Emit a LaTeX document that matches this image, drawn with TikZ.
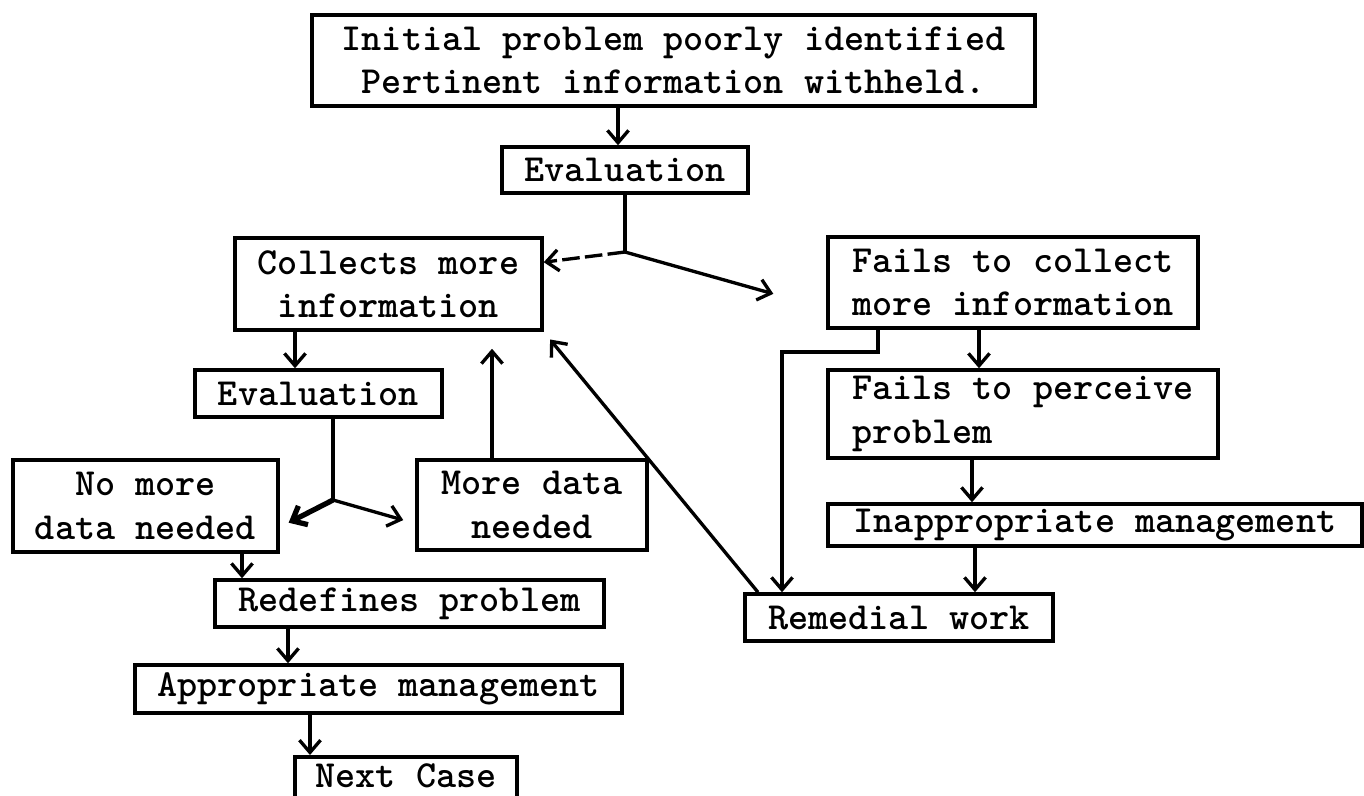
\documentclass[tikz,border=0pt]{standalone}
\usepackage{fontspec}
\usepackage{tikz}
\usetikzlibrary{arrows.meta,calc}
\tikzset{>={Straight Barb[length=7pt,width=12pt]}}
\tikzstyle{box}=[rectangle,draw=black,line width=2pt,inner sep=0pt,align=center,font=\fontsize{21.8}{24.7}\selectfont\ttfamily\bfseries]
\tikzstyle{link}=[line width=1.9pt]

\begin{document}
\begin{tikzpicture}[x=0.02cm,y=-0.02cm]
\useasboundingbox (0,0) rectangle (1364,795);

% top of the chart
\node[box,minimum width=14.46cm,minimum height=1.82cm] (initprob) at (673.5,60.5) {Initial problem poorly identified\\Pertinent information withheld.};
\node[box,minimum width=4.92cm,minimum height=0.92cm] (eval1) at (625,170) {Evaluation};

% left branch
\node[box,minimum width=6.14cm,minimum height=1.84cm] (collect) at (388.5,284) {Collects more\\information};
\node[box,minimum width=4.94cm,minimum height=0.94cm] (eval2) at (318.5,393.5) {Evaluation};
\node[box,minimum width=5.30cm,minimum height=1.84cm] (nomore) at (145.5,506) {No more\\data needed};
\node[box,minimum width=4.60cm,minimum height=1.80cm] (moredata) at (532,505) {More data\\needed};
\node[box,minimum width=7.78cm,minimum height=0.94cm] (redef) at (409.5,603.5) {Redefines problem};
\node[box,minimum width=9.74cm,minimum height=0.96cm] (approp) at (378.5,689) {Appropriate management};
\node[box,minimum width=4.44cm,anchor=north,inner ysep=4pt,text depth=1.3cm] (nextcase) at (406,755) {Next Case};

% right branch
\node[box,minimum width=7.40cm,minimum height=1.82cm] (failcol) at (1013,282.5) {Fails to collect\\more information};
\node[box,minimum width=7.80cm,minimum height=1.76cm,align=left] (failper) at (1023,414) {Fails to perceive\\problem};
\node[box,minimum width=10.68cm,minimum height=0.84cm] (inapp) at (1095,525) {Inappropriate management};
\node[box,minimum width=6.16cm,minimum height=0.94cm] (remed) at (899,617.5) {Remedial work};

\coordinate (j1) at (625,252);
\coordinate (j2) at (333,500);
\coordinate (k1) at (782,352);

\foreach \a/\b/\x in {initprob/eval1/618, collect/eval2/295, nomore/redef/242, redef/approp/288, approp/nextcase/310, failcol/failper/979, failper/inapp/972, inapp/remed/975} {
	\draw[link,->] (\a.south -| \x,0) -- (\b.north -| \x,0);
};

\draw[link] (eval1.south) -- (j1);
\draw[link,->,dash pattern=on 10pt off 3pt] (j1) -- (collect.8);
\draw[link,->,shorten >=1.1cm] (j1) -- (failcol.188);

\draw[link] (eval2.south -| j2) -- (j2);
\draw[link,->,line width=3pt,shorten >=0.2cm] (j2) -- (nomore.351);
\draw[link,->,shorten >=0.25cm] (j2) -- (moredata.189);
\draw[link,->,shorten >=0.34cm] (moredata.north -| 492,0) -- (collect.south -| 492,0);

\draw[link,->] (failcol.south -| 878,0) |- (k1) -- (remed.north -| k1);
\draw[link,->,shorten >=0.2cm] (remed.north -| 758,0) -- (collect.south east);

\end{tikzpicture}
\end{document}
